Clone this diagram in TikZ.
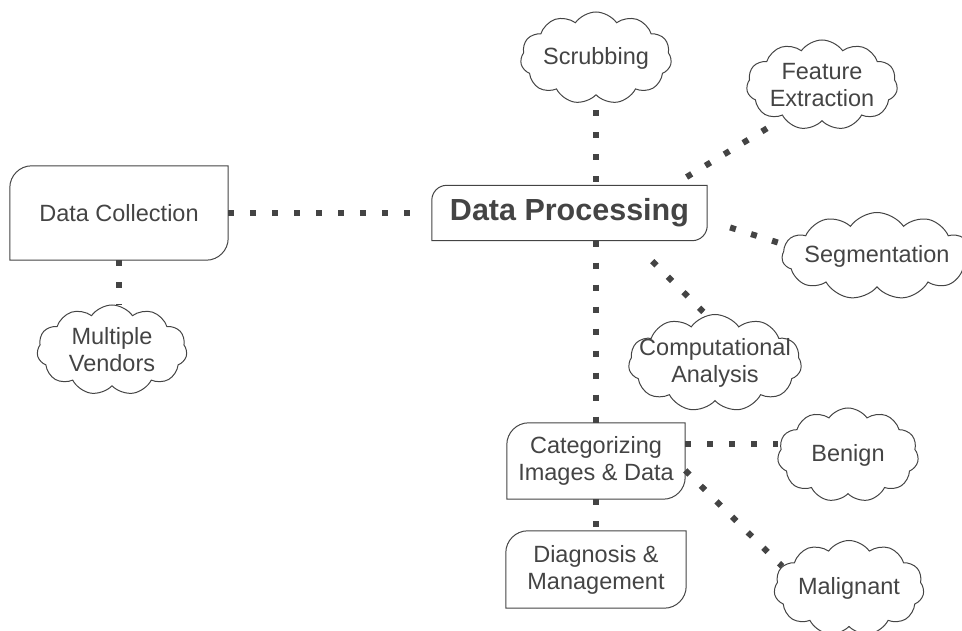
\documentclass[tikz,border=0pt]{standalone}
\usepackage{fontspec}
\setmainfont{Liberation Sans}
\usetikzlibrary{shapes.symbols}
\definecolor{ink}{HTML}{444444}

\begin{document}
\begin{tikzpicture}[x=1pt,y=1pt,
    txt/.style={text=ink,font=\fontsize{23.5}{27}\selectfont,align=center},
    proc/.style={txt,inner sep=0pt},
    puff/.style={cloud,draw=ink,line width=1pt,cloud puffs=11,cloud puff arc=110,cloud ignores aspect,inner sep=0pt},
    link/.style={draw=ink,line width=6pt,dash pattern=on 6pt off 16pt}]
    \useasboundingbox (0,0) rectangle (962,630);

    \path
    (119,417) node[proc,minimum width=218pt,minimum height=94pt] (DC) {Data Collection}
    (569.5,417) node[proc,minimum width=275pt,minimum height=55pt,font=\fontsize{30.5}{34}\selectfont\bfseries] (DP) {Data Processing}
    (596,169) node[proc,minimum width=178pt,minimum height=76pt] (CID) {Categorizing\\Images \& Data}
    (596,60.5) node[proc,minimum width=180pt,minimum height=77pt] (DM) {Diagnosis \&\\Management}
    ;
    \foreach \n/\rad in {DC/22,DP/15,CID/22,DM/22}
        \draw[ink,line width=1pt] (\n.south west) -- ([yshift=-\rad pt]\n.north west)
            arc[start angle=180,end angle=90,radius=\rad pt] -- (\n.north east)
            -- ([yshift=\rad pt]\n.south east) arc[start angle=0,end angle=-90,radius=\rad pt] -- cycle;

    \path
    (596,572) node[puff,minimum width=151pt,minimum height=92pt] (Scr) {}
    (Scr) node[txt] (Scrt) {Scrubbing}
    (822,545) node[puff,minimum width=151pt,minimum height=90pt] (FE) {}
    (FE) node[txt] (FEt) {Feature\\Extraction}
    (877,374) node[puff,minimum width=190pt,minimum height=87pt] (Seg) {}
    (Seg) node[txt] (Segt) {Segmentation}
    (715,267) node[puff,minimum width=173pt,minimum height=97pt] (CA) {}
    (CA) node[txt] (CAt) {Computational\\Analysis}
    (848,175) node[puff,minimum width=141pt,minimum height=94pt] (Ben) {}
    (Ben) node[txt] (Bent) {Benign}
    (849,42) node[puff,minimum width=150pt,minimum height=95pt] (Mal) {}
    (Mal) node[txt] (Malt) {Malignant}
    (112,280) node[puff,minimum width=150pt,minimum height=90pt] (MV) {}
    (MV) node[txt] (MVt) {Multiple\\Vendors}
    ;

    \draw[link,shorten >=10pt] (DC) -- (DP);
    \draw[link] (DC.south) -- (DC.south |- MV.north);
    \draw[link,shorten <=15pt] (Scr.south) -- (Scr.south |- DP.north);
    \draw[link,shorten <=16pt,shorten >=6pt] (DP.15) -- (FE.221);
    \draw[link,shorten <=24pt] (DP.-3) -- (Seg.173);
    \draw[link,shorten <=29pt] (DP.-24) -- (CA.100);
    \draw[link] (CID.north |- DP.south) -- (CID.north);
    \draw[link] (CID.11) -- (CID.11 -| Ben.west);
    \draw[link] (CID.-6) -- (Mal.162);
    \draw[link] (CID.south) -- (DM.north);
\end{tikzpicture}
\end{document}
